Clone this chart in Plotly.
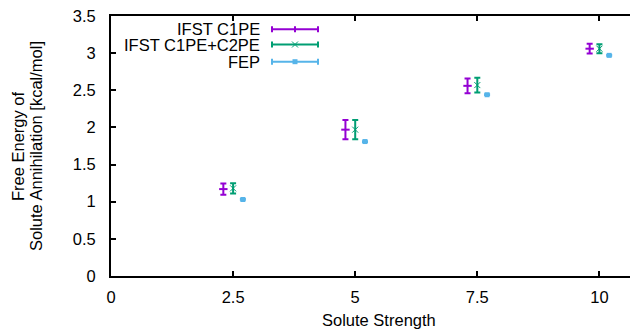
import plotly.graph_objects as go

# ---- data ----
x_c1pe = [2.3, 4.8, 7.3, 9.8]
y_c1pe = [1.17, 1.97, 2.56, 3.06]
e_c1pe = [0.075, 0.13, 0.10, 0.065]

x_c2pe = [2.5, 5.0, 7.5, 10.0]
y_c2pe = [1.18, 1.97, 2.57, 3.06]
e_c2pe = [0.07, 0.13, 0.10, 0.06]

x_fep = [2.7, 5.2, 7.7, 10.2]
y_fep = [1.03, 1.81, 2.44, 2.97]
e_fep = [0.005, 0.005, 0.005, 0.005]

names = ["IFST C1PE", "IFST C1PE+C2PE", "FEP"]
colors = ["#9400d3", "#009e73", "#56b4e9"]
x_ticks = [0, 2.5, 5, 7.5, 10]
x_ticklabels = ["0", "2.5", "5", "7.5", "10"]
y_ticks = [0, 0.5, 1, 1.5, 2, 2.5, 3, 3.5]
y_ticklabels = ["0", "0.5", "1", "1.5", "2", "2.5", "3", "3.5"]

FONT = "Liberation Sans, Arial, sans-serif"
FS = 16.5
OFF = 8  # default page body margin
# plot area in page pixels
PL, PT, PR, PB = 111, 16, 638, 276
PW, PH = PR - PL, PB - PT
W, H = 638 - OFF, 329 - OFF
ML, MT = PL - OFF, PT - OFF
MR, MB = W - (PR - OFF), H - (PB - OFF)

fig = go.Figure()

fig.add_trace(go.Scatter(
    x=x_c1pe, y=y_c1pe, mode="markers", name=names[0],
    marker=dict(symbol="line-ew-open", size=6, color=colors[0],
                line=dict(color=colors[0], width=2)),
    error_y=dict(type="data", array=e_c1pe, visible=True, color=colors[0],
                 thickness=2, width=3),
    showlegend=False))
fig.add_trace(go.Scatter(
    x=x_c2pe, y=y_c2pe, mode="markers", name=names[1],
    marker=dict(symbol="x-thin-open", size=6, color=colors[1],
                line=dict(color=colors[1], width=1)),
    error_y=dict(type="data", array=e_c2pe, visible=True, color=colors[1],
                 thickness=2, width=3),
    showlegend=False))
fig.add_trace(go.Scatter(
    x=x_fep, y=y_fep, mode="markers", name=names[2],
    marker=dict(symbol="square", size=5, color=colors[2]),
    error_y=dict(type="data", array=e_fep, visible=True, color=colors[2],
                 thickness=2, width=3),
    showlegend=False))

# ---- manual gnuplot-style legend (text right, sample on the right) ----
def px(xp):
    return (xp - PL) / PW

def py(yp):
    return (PB - yp) / PH

rows = [29.3, 44.5, 61.7]
text_right = 262
s_left, s_right = 272, 318
shapes = []
annotations = []
for i, (nm, col, ry) in enumerate(zip(names, colors, rows)):
    annotations.append(dict(
        x=px(text_right), y=py(ry), xref="paper", yref="paper",
        text=nm, showarrow=False, xanchor="right", yanchor="middle",
        font=dict(family=FONT, size=FS, color="black")))
    shapes.append(dict(type="line", xref="paper", yref="paper",
                       x0=px(s_left), x1=px(s_right), y0=py(ry), y1=py(ry),
                       line=dict(color=col, width=2)))
    for cx in (s_left, s_right):
        shapes.append(dict(type="line", xref="paper", yref="paper",
                           x0=px(cx), x1=px(cx), y0=py(ry - 3), y1=py(ry + 3),
                           line=dict(color=col, width=2)))
    mid = (s_left + s_right) / 2
    if i == 0:
        shapes.append(dict(type="line", xref="paper", yref="paper",
                           x0=px(mid), x1=px(mid), y0=py(ry - 3), y1=py(ry + 3),
                           line=dict(color=col, width=2)))
    elif i == 1:
        for d in (-1, 1):
            shapes.append(dict(type="line", xref="paper", yref="paper",
                               x0=px(mid - 3), x1=px(mid + 3),
                               y0=py(ry - 3 * d), y1=py(ry + 3 * d),
                               line=dict(color=col, width=1)))
    else:
        shapes.append(dict(type="rect", xref="paper", yref="paper",
                           x0=px(mid - 2.5), x1=px(mid + 2.5),
                           y0=py(ry - 2.5), y1=py(ry + 2.5),
                           line=dict(width=0), fillcolor=col))

# axis titles
for txt, cx in (("Free Energy of", 18), ("Solute Annihilation [kcal/mol]", 36)):
    annotations.append(dict(
        x=px(cx), y=py(146), xref="paper", yref="paper",
        text=txt, showarrow=False, textangle=-90,
        xanchor="center", yanchor="middle",
        font=dict(family=FONT, size=FS, color="black")))
annotations.append(dict(
    x=px(379), y=py(320), xref="paper", yref="paper",
    text="Solute Strength", showarrow=False,
    xanchor="center", yanchor="middle",
    font=dict(family=FONT, size=FS, color="black")))

fig.update_layout(
    width=W, height=H,
    margin=dict(l=ML, r=MR, t=MT, b=MB, pad=0),
    paper_bgcolor="white", plot_bgcolor="white",
    font=dict(family=FONT, size=FS, color="black"),
    shapes=shapes, annotations=annotations,
    xaxis=dict(range=[0, 10.79], tickvals=x_ticks, ticktext=x_ticklabels,
               showgrid=False, zeroline=False, showline=True,
               linecolor="black", linewidth=2, mirror="ticks",
               ticks="inside", ticklen=5, tickwidth=1.5, tickcolor="black",
               ticklabelstandoff=5, ticklabeloverflow="allow"),
    yaxis=dict(range=[0, 3.5], tickvals=y_ticks, ticktext=y_ticklabels,
               showgrid=False, zeroline=False, showline=True,
               linecolor="black", linewidth=2, mirror=False,
               ticks="inside", ticklen=5, tickwidth=1.5, tickcolor="black",
               ticklabelstandoff=10, ticklabeloverflow="allow"),
)

fig.write_html("out.html")
